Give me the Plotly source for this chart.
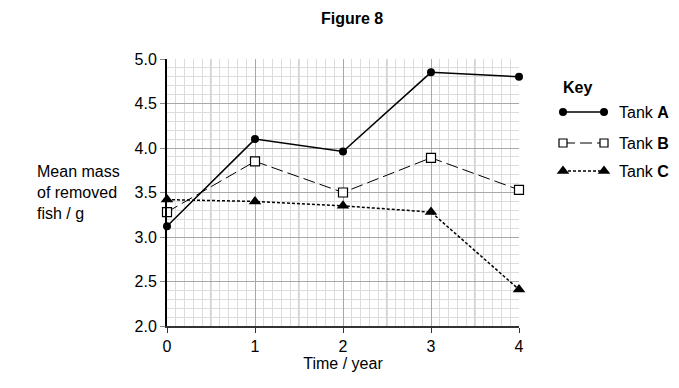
import plotly.graph_objects as go

years = [0, 1, 2, 3, 4]
tank_a = [3.12, 4.10, 3.96, 4.85, 4.80]
tank_b = [3.28, 3.85, 3.50, 3.89, 3.53]
tank_c = [3.42, 3.40, 3.35, 3.28, 2.41]

x_ticks = [0, 1, 2, 3, 4]
y_ticks = [2.0, 2.5, 3.0, 3.5, 4.0, 4.5, 5.0]
x_half_lines = [0.5, 1.5, 2.5, 3.5]

W, H = 679, 388
OFF = 8  # page body margin
FONT = "Liberation Sans, Arial, sans-serif"
MINOR = "#dcdcdc"
MAJOR = "#a8a8a8"

fig = go.Figure()

fig.add_trace(go.Scatter(x=years, y=tank_a, mode="lines+markers", cliponaxis=False,
                         line=dict(color="black", width=1.5),
                         marker=dict(symbol="circle", size=8, color="black")))
fig.add_trace(go.Scatter(x=years, y=tank_b, mode="lines+markers", cliponaxis=False,
                         line=dict(color="black", width=1, dash="12px,5px"),
                         marker=dict(symbol="square", size=9, color="white",
                                     line=dict(width=1.2, color="black"))))
fig.add_trace(go.Scatter(x=years, y=tank_c, mode="lines+markers", cliponaxis=False,
                         line=dict(color="black", width=1.5, dash="3px,2px"),
                         marker=dict(symbol="triangle-up", size=11, color="black")))

# Key (screen-pixel coordinate overlay)
key_rows = [
    dict(y=112, sym="circle", size=8, dash="solid", w=1.5, label="Tank <b>A</b>"),
    dict(y=143, sym="square", size=8, dash="12px,5px", w=1, label="Tank <b>B</b>"),
    dict(y=171, sym="triangle-up", size=11, dash="3px,2px", w=1.5, label="Tank <b>C</b>"),
]
for r in key_rows:
    color = "white" if r["sym"] == "square" else "black"
    fig.add_trace(go.Scatter(x=[563, 604], y=[r["y"], r["y"]], xaxis="x2", yaxis="y2",
                             mode="lines+markers", cliponaxis=False, hoverinfo="skip",
                             line=dict(color="black", width=r["w"], dash=r["dash"]),
                             marker=dict(symbol=r["sym"], size=r["size"], color=color,
                                         line=dict(width=1.2 if r["sym"] == "square" else 0,
                                                   color="black"))))
    fig.add_annotation(x=617, y=r["y"], xref="x2", yref="y2", text=r["label"],
                       showarrow=False, xanchor="left", yanchor="middle",
                       font=dict(size=16, color="black", family=FONT))

fig.add_annotation(x=561, y=87, xref="x2", yref="y2", text="<b>Key</b>", showarrow=False,
                   xanchor="left", yanchor="middle", font=dict(size=16, color="black", family=FONT))
fig.add_annotation(x=352, y=18, xref="x2", yref="y2", text="<b>Figure 8</b>", showarrow=False,
                   xanchor="center", yanchor="middle", font=dict(size=16, color="black", family=FONT))
fig.add_annotation(x=35, y=192, xref="x2", yref="y2",
                   text="Mean mass<br>of removed<br>fish / g", showarrow=False, align="left",
                   xanchor="left", yanchor="middle", font=dict(size=16, color="black", family=FONT))

for xv in x_half_lines:
    fig.add_shape(type="line", x0=xv, x1=xv, y0=2, y1=5, xref="x", yref="y",
                  line=dict(color=MAJOR, width=1), layer="below")

x0d, x1d = (167 - OFF) / W, (519 - OFF) / W
y0d, y1d = (H - (326 - OFF)) / H, (H - (59 - OFF)) / H

fig.update_layout(
    template="none",
    width=W, height=H, margin=dict(l=0, r=0, t=0, b=0, pad=0),
    paper_bgcolor="white", plot_bgcolor="rgba(0,0,0,0)", showlegend=False,
    font=dict(family=FONT, size=16, color="black"),
    xaxis=dict(domain=[x0d, x1d], range=[0, 4], tickvals=x_ticks, ticktext=[str(v) for v in x_ticks],
               automargin=False,
               showgrid=True, gridcolor=MAJOR, gridwidth=1, zeroline=False,
               showline=True, linecolor="#333333", linewidth=2, mirror=False,
               ticks="outside", ticklen=5, tickcolor="#333333", tickwidth=1,
               minor=dict(dtick=0.1, showgrid=True, gridcolor=MINOR, gridwidth=1, ticks=""),
               title=dict(text="Time / year", font=dict(size=16), standoff=2),
               tickfont=dict(size=16), fixedrange=True),
    yaxis=dict(domain=[y0d, y1d], range=[2, 5], tickvals=y_ticks,
               ticktext=[f"{v:.1f}" for v in y_ticks], automargin=False,
               showgrid=True, gridcolor=MAJOR, gridwidth=1, zeroline=False,
               showline=True, linecolor="black", linewidth=2,
               ticks="outside", ticklen=5, tickcolor="#888888", tickwidth=1,
               minor=dict(dtick=0.1, showgrid=True, gridcolor=MINOR, gridwidth=1, ticks=""),
               tickfont=dict(size=16), fixedrange=True),
    xaxis2=dict(domain=[0, 1], range=[OFF, W + OFF], visible=False, anchor="y2", fixedrange=True,
                automargin=False),
    yaxis2=dict(domain=[0, 1], range=[H + OFF, OFF], visible=False, anchor="x2", fixedrange=True,
                automargin=False),
)

fig.write_html("out.html")
